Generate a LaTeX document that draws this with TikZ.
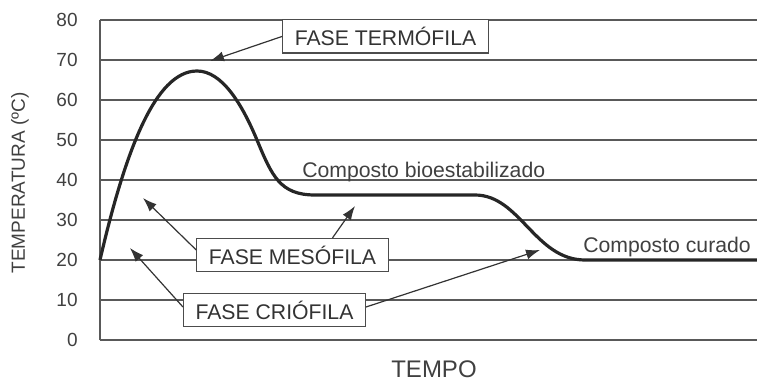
\documentclass[tikz,border=0pt]{standalone}
\usepackage{fontspec}
\setmainfont{Liberation Sans}
\usepackage{tikz}
\usetikzlibrary{arrows.meta}

\tikzset{
  fase/.style={draw=black!70, fill=white, line width=0.6pt, inner xsep=6pt, inner ysep=0pt,
    minimum height=16.5pt, text=black!80, font=\fontsize{10.6}{12}\selectfont},
  rotulo/.style={text=black!75, inner sep=0pt, font=\fontsize{10.6}{12}\selectfont},
  grade/.style={draw=black!65, line width=0.6pt},
  seta/.style={->, draw=black!80, line width=0.6pt},
}

\begin{document}
\begin{tikzpicture}[x=0.5pt, y=2pt, >={Latex[length=7pt,width=5pt]}]
  \useasboundingbox (-100,-10.25) rectangle (657,85);
  \foreach \t in {0,10,...,80}{
    \draw[grade] (0,\t) -- (657,\t);
    \node[rotulo, anchor=east, font=\fontsize{9.5}{11}\selectfont] (t\t) at (-22,\t) {\t};
  }
  \draw[grade] (0,0) -- (0,80);
  \node[rotulo, rotate=90, font=\fontsize{9.5}{11}\selectfont] (ylab) at (-80,39.25) {TEMPERATURA (ºC)};
  \node[rotulo, font=\fontsize{12}{14}\selectfont] (xlab) at (334,-7.2) {TEMPO};

  % curva da temperatura
  \draw[line width=1.6pt, black!85, line join=round]
    (0,20) .. controls (25,47) and (55,67.25) .. (97,67.25)
    .. controls (122,67.25) and (142,59) .. (157,50)
    .. controls (172,41) and (180,36.25) .. (215,36.25)
    -- (375,36.25) .. controls (420,36.25) and (435,20) .. (485,20) -- (657,20);

  \node[rotulo, anchor=base west] (bioest) at (202,40.6) {Composto bioestabilizado};
  \node[rotulo, anchor=base west] (curado) at (483,22) {Composto curado};

  \node[fase] (termo) at (285.5,75.9) {FASE TERMÓFILA};
  \node[fase] (meso) at (192.5,21.25) {FASE MESÓFILA};
  \node[fase] (crio) at (174.5,7.5) {FASE CRIÓFILA};

  \coordinate (pico) at (110,69.75);
  \coordinate (mesoA) at (43,35.5);
  \coordinate (mesoB) at (255,33.5);
  \coordinate (crioA) at (30,23);
  \coordinate (crioB) at (440,22.5);

  \draw[seta] (termo.west) -- (pico);
  \draw[seta] ([yshift=2.5pt]meso.west) -- (mesoA);
  \draw[seta] ([xshift=20pt]meso.north) -- (mesoB);
  \draw[seta] ([yshift=1.5pt]crio.west) -- (crioA);
  \draw[seta] ([yshift=1.5pt]crio.east) -- (crioB);
\end{tikzpicture}
\end{document}
